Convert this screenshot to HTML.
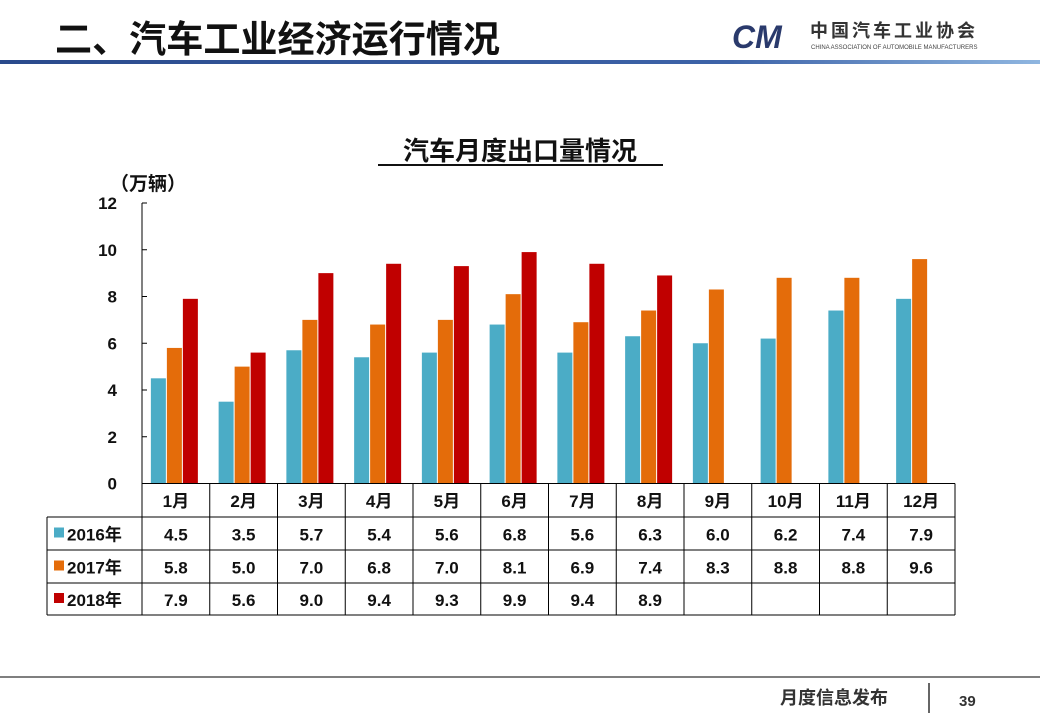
<!DOCTYPE html>
<html><head><meta charset="utf-8"><style>
body{margin:0;background:#fff;}
#wrap{position:relative;width:1040px;height:720px;overflow:hidden;font-family:"Liberation Sans","Noto Sans CJK SC",sans-serif;}
svg text{font-family:"Liberation Sans","Noto Sans CJK SC",sans-serif;}
</style></head><body>
<div id="wrap">
<svg id="chart" width="1040" height="720">
<defs><linearGradient id="hg" x1="0" x2="1"><stop offset="0" stop-color="#2a4a8c"/><stop offset="0.7" stop-color="#3d63a8"/><stop offset="1" stop-color="#8fb6e0"/></linearGradient></defs>
<text x="55" y="52" font-size="37" font-weight="bold" fill="#111" textLength="445" lengthAdjust="spacingAndGlyphs">二、汽车工业经济运行情况</text>
<rect x="0" y="60" width="1040" height="4" fill="url(#hg)"/>
<g>
<text x="732" y="48" font-size="32" font-weight="bold" font-style="italic" fill="#2a3a6c">CM</text>
<text x="810" y="37" font-size="18" font-weight="bold" fill="#333" letter-spacing="3">中国汽车工业协会</text>
<text x="811" y="49" font-size="6" fill="#444">CHINA ASSOCIATION OF AUTOMOBILE MANUFACTURERS</text>
</g>
<text x="520" y="160" font-size="26" font-weight="bold" text-anchor="middle" fill="#111">汽车月度出口量情况</text>
<line x1="378" y1="165" x2="663" y2="165" stroke="#111" stroke-width="2"/>
<text x="110" y="190" font-size="19" font-weight="bold" fill="#111">（万辆）</text>
<g id="plot"></g>
<line x1="0" y1="677" x2="1040" y2="677" stroke="#555" stroke-width="1.5"/>
<text x="780" y="704" font-size="18" fill="#333" font-weight="bold">月度信息发布</text>
<line x1="929" y1="683" x2="929" y2="713" stroke="#333" stroke-width="1.5"/>
<text x="959" y="706" font-size="15" font-weight="bold" fill="#333">39</text>
</svg>
</div>
<script>
const categories=["1月","2月","3月","4月","5月","6月","7月","8月","9月","10月","11月","12月"];
const seriesNames=["2016年","2017年","2018年"];
const s2016=[4.5,3.5,5.7,5.4,5.6,6.8,5.6,6.3,6.0,6.2,7.4,7.9];
const s2017=[5.8,5.0,7.0,6.8,7.0,8.1,6.9,7.4,8.3,8.8,8.8,9.6];
const s2018=[7.9,5.6,9.0,9.4,9.3,9.9,9.4,8.9,null,null,null,null];
const yTicks=[0,2,4,6,8,10,12];
const colors=["#4bacc6","#e46c0a","#c00000"];
const NS="http://www.w3.org/2000/svg";
const g=document.getElementById('plot');
const X0=142,X1=955,Y0=483.5,Y12=203;
const cw=(X1-X0)/categories.length;
const y=v=>Y0-(v/12)*(Y0-Y12);
const xc=i=>X0+cw*(i+0.5);
function mk(t,a){const e=document.createElementNS(NS,t);for(const k in a)e.setAttribute(k,a[k]);g.appendChild(e);return e;}
let e=mk('line',{x1:X0,y1:Y12,x2:X0,y2:Y0,stroke:'#000','stroke-width':1});


yTicks.forEach(v=>{
 mk('line',{x1:X0,y1:y(v),x2:X0+5,y2:y(v),stroke:'#000'});
 const t=mk('text',{x:117,y:y(v)+6,'font-size':17,'font-weight':'bold','text-anchor':'end',fill:'#111'});
 t.textContent=v;
 
 
});
const series=[s2016,s2017,s2018];
const bw=16;
series.forEach((s,si)=>{s.forEach((v,i)=>{ if(v==null)return;
 const r=mk('rect',{x:xc(i)-25+si*bw,y:y(v),width:bw-1,height:Y0-y(v),fill:colors[si]});
 
 
});});
const rows=[483.5,517,550,583,615];
const TL=47;
mk('line',{x1:X0,y1:rows[0],x2:X1,y2:rows[0],stroke:'#000'});
for(let r=1;r<rows.length;r++) mk('line',{x1:TL,y1:rows[r],x2:X1,y2:rows[r],stroke:'#000'});
mk('line',{x1:TL,y1:rows[1],x2:TL,y2:rows[4],stroke:'#000'});
for(let i=0;i<=categories.length;i++) mk('line',{x1:X0+cw*i,y1:rows[0],x2:X0+cw*i,y2:rows[4],stroke:'#000'});
categories.forEach((c,i)=>{
 const t=mk('text',{x:xc(i),y:507,'font-size':17,'font-weight':'bold','text-anchor':'middle',fill:'#111'});
 t.textContent=c;
 
 
});
series.forEach((s,si)=>{
 const cy=(rows[si+1]+rows[si+2])/2;
 mk('rect',{x:54,y:cy-6,width:10,height:10,fill:colors[si]});
 const l=mk('text',{x:67,y:cy+7,'font-size':17,'font-weight':'bold',fill:'#111'});
 l.textContent=seriesNames[si];
 
 
 s.forEach((v,i)=>{ if(v==null)return;
  const t=mk('text',{x:xc(i),y:cy+7,'font-size':17,'font-weight':'bold','text-anchor':'middle',fill:'#111'});
  t.textContent=v.toFixed(1);
  
  
 });
});
</script>
</body></html>
